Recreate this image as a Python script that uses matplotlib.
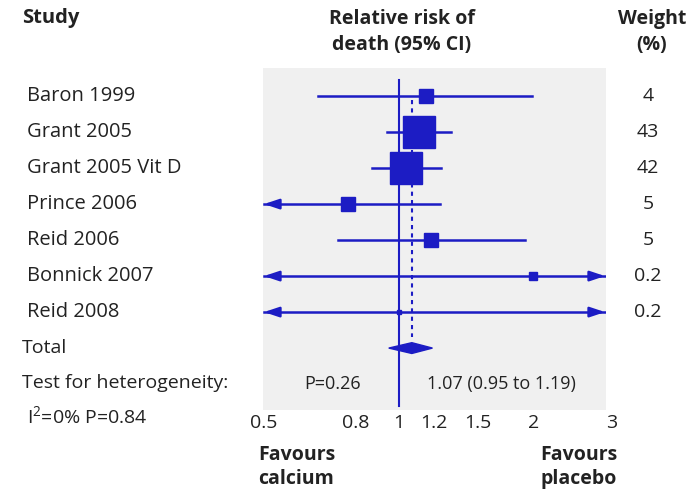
import numpy as np
import matplotlib.pyplot as plt
from matplotlib.transforms import blended_transform_factory

plt.rcParams['font.family'] = ['Open Sans', 'DejaVu Sans']
plt.rcParams['mathtext.default'] = 'regular'

studies = ['Baron 1999', 'Grant 2005', 'Grant 2005 Vit D', 'Prince 2006',
           'Reid 2006', 'Bonnick 2007', 'Reid 2008']
rr = [1.15, 1.11, 1.04, 0.77, 1.18, 2.0, 1.0]
lo = [0.66, 0.94, 0.87, 0.30, 0.73, 0.05, 0.05]
hi = [1.99, 1.31, 1.245, 1.24, 1.92, 20.0, 20.0]
weight = [4, 43, 42, 5, 5, 0.2, 0.2]
weight_labels = ['4', '43', '42', '5', '5', '0.2', '0.2']

total_rr, total_lo, total_hi = 1.07, 0.95, 1.19
ticks = [0.5, 0.8, 1, 1.2, 1.5, 2, 3]
tick_labels = ['0.5', '0.8', '1', '1.2', '1.5', '2', '3']

blue = '#1c1cc4'
ink = '#222222'
fs = 14
W, H = 689, 492
fig = plt.figure(figsize=(W / 100, H / 100), dpi=100)
ax = fig.add_axes([263 / W, 1 - 410 / H, (606 - 263) / W, (410 - 68) / H])
ax.set_facecolor('#f0f0f0')
for s in ax.spines.values():
    s.set_visible(False)
ax.set_xscale('log')
xmin, xmax = 0.497, 2.91
ax.set_xlim(xmin, xmax)
ax.set_ylim(8.72, -0.78)
ax.set_xticks([])
ax.set_yticks([])
ax.minorticks_off()

# line of no effect and pooled estimate
ax.plot([1, 1], [-0.45, 8.6], color=blue, lw=1.5, zorder=2)
ax.plot([total_rr, total_rr], [0.1, 6.7], color=blue, lw=1.5,
        ls=(0, (2, 2)), zorder=2)

for i in range(len(studies)):
    a, b = max(lo[i], xmin * 1.005), min(hi[i], xmax * 0.995)
    ax.plot([a, b], [i, i], color=blue, lw=1.8, zorder=3)
    if lo[i] < xmin:
        ax.annotate('', xy=(a, i), xytext=(a * 1.08, i),
                    arrowprops=dict(arrowstyle='-|>,head_length=0.9,head_width=0.3',
                                    color=blue, lw=1.8, shrinkA=0, shrinkB=0))
    if hi[i] > xmax:
        ax.annotate('', xy=(b, i), xytext=(b / 1.08, i),
                    arrowprops=dict(arrowstyle='-|>,head_length=0.9,head_width=0.3',
                                    color=blue, lw=1.8, shrinkA=0, shrinkB=0))
    size = 4 + 2.9 * np.sqrt(weight[i])
    if i == 6:
        size = 2.5
    ax.plot(rr[i], i, marker='s', ms=size, color=blue, mec=blue, zorder=4)

# pooled diamond
ax.fill([total_lo, total_rr, total_hi, total_rr], [7, 6.85, 7, 7.15],
        color=blue, zorder=4)

ax.text(0.71, 8.0, 'P=0.26', fontsize=fs - 1, ha='center', va='center', color=ink)
ax.text(1.70, 8.0, '1.07 (0.95 to 1.19)', fontsize=fs - 1, ha='center',
        va='center', color=ink)

# text columns outside the panel
tr = blended_transform_factory(fig.transFigure, ax.transData)
for i, name in enumerate(studies):
    fig.text(27 / W, 0, name, transform=tr, fontsize=fs + 0.5, va='center',
             color=ink).set_y(i)
    fig.text(648 / W, 0, weight_labels[i], transform=tr, fontsize=fs,
             ha='center', va='center', color=ink).set_y(i)

fig.text(22 / W, 1 - 348 / H, 'Total', fontsize=fs, va='center', color=ink)
fig.text(22 / W, 1 - 383 / H, 'Test for heterogeneity:', fontsize=fs,
         va='center', color=ink)
fig.text(27 / W, 1 - 416 / H, 'I$^{2}$=0% P=0.84', fontsize=fs,
         va='center', color=ink)

trx = blended_transform_factory(ax.transData, fig.transFigure)
for t, lab in zip(ticks, tick_labels):
    ax.text(t, 1 - 423 / H, lab, transform=trx, fontsize=fs, ha='center',
            va='center', color=ink, clip_on=False)

fig.text(22 / W, 1 - 18 / H, 'Study', fontsize=fs + 0.5, fontweight='bold',
         va='center', color=ink)
fig.text(402 / W, 1 - 32 / H, 'Relative risk of\ndeath (95% CI)', fontsize=fs,
         fontweight='bold', ha='center', va='center', linespacing=1.45,
         color=ink)
fig.text(652 / W, 1 - 32 / H, 'Weight\n(%)', fontsize=fs, fontweight='bold',
         ha='center', va='center', linespacing=1.45, color=ink)
fig.text(258 / W, 1 - 467 / H, 'Favours\ncalcium', fontsize=fs,
         fontweight='bold', ha='left', va='center', linespacing=1.25,
         color=ink)
fig.text(617 / W, 1 - 467 / H, 'Favours\nplacebo', fontsize=fs,
         fontweight='bold', ha='right', va='center', linespacing=1.25,
         color=ink)

fig.savefig('out.png', dpi=100)
